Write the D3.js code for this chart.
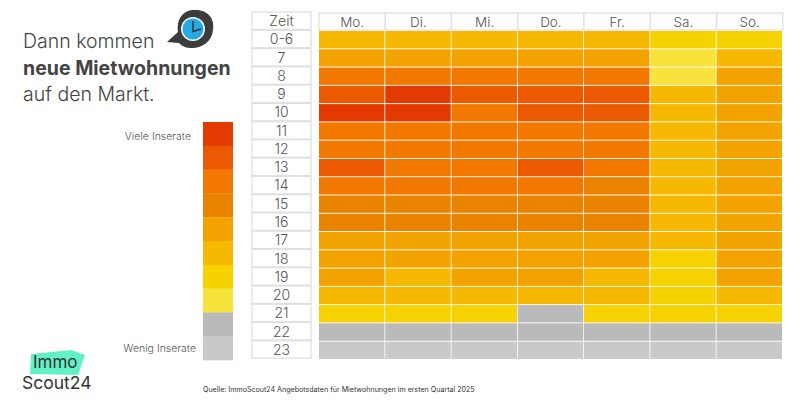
<!DOCTYPE html>
<html>
<head>
<meta charset="utf-8">
<script src="https://cdn.jsdelivr.net/npm/d3@7"></script>
<style>
  html, body { margin: 0; padding: 0; background: #fff; }
  svg { display: block; }
  text { font-family: Inter, "Open Sans", sans-serif; font-weight: 300; fill: #555; }
</style>
</head>
<body>
<div id="chart"></div>
<script>
const days = ['Mo.', 'Di.', 'Mi.', 'Do.', 'Fr.', 'Sa.', 'So.'];
const hours = ['0-6', '7', '8', '9', '10', '11', '12', '13', '14', '15', '16', '17', '18', '19', '20', '21', '22', '23'];

// listing level per hour, 0 = few, 9 = many
const mo = [4, 5, 7, 8, 9, 7, 7, 8, 7, 6, 6, 5, 5, 5, 4, 3, 1, 0];
const di = [4, 5, 7, 9, 9, 7, 7, 7, 7, 6, 6, 5, 5, 4, 4, 3, 1, 0];
const mi = [4, 5, 7, 8, 7, 7, 7, 7, 7, 6, 6, 5, 5, 5, 4, 3, 1, 0];
const doo = [4, 5, 7, 8, 8, 7, 7, 8, 7, 6, 6, 5, 5, 5, 4, 1, 1, 0];
const fr = [4, 5, 7, 8, 8, 7, 7, 7, 6, 6, 6, 5, 5, 4, 4, 3, 1, 0];
const sa = [3, 2, 2, 4, 4, 4, 4, 4, 4, 4, 4, 4, 3, 3, 3, 3, 1, 0];
const so = [3, 4, 5, 5, 5, 5, 5, 5, 5, 5, 5, 5, 5, 5, 4, 3, 1, 0];
const series = [mo, di, mi, doo, fr, sa, so];

const levels = [9, 8, 7, 6, 5, 4, 3, 2, 1, 0];
const levelColors = ['#e23a00', '#eb5a00', '#f37800', '#ea8400', '#f3a300', '#f6b800', '#f6d200', '#f8e23c', '#bababa', '#c9c9c9'];

const titleLines = ['Dann kommen', 'neue Mietwohnungen', 'auf den Markt.'];

const width = 800;
const height = 400;

const svg = d3.select('#chart')
  .append('svg')
    .attr('width', width)
    .attr('height', height);

const x = d3.scaleBand().domain(days).range([319, 782]).paddingInner(0.012);
const y = d3.scaleBand().domain(hours).range([31, 359]).paddingInner(0.05);
const color = d3.scaleOrdinal().domain(levels).range(levelColors);

// cells
const cells = series.flatMap((vals, i) => vals.map((v, j) => ({ day: days[i], hour: hours[j], v })));

svg.append('g')
  .selectAll('rect')
  .data(cells)
  .enter()
    .append('rect')
      .attr('x', d => x(d.day))
      .attr('y', d => y(d.hour))
      .attr('width', x.bandwidth())
      .attr('height', y.bandwidth())
      .attr('fill', d => color(d.v));

// day headers
const head = svg.append('g')
  .selectAll('g')
  .data(days)
  .enter()
    .append('g')
      .attr('transform', d => `translate(${x(d)},13)`);

head.append('rect')
  .attr('width', x.step())
  .attr('height', 17)
  .attr('fill', '#fff')
  .attr('stroke', '#e0e0e0')
  .attr('stroke-width', 1.3);

head.append('text')
  .attr('x', x.step() / 2)
  .attr('y', 13.5)
  .attr('text-anchor', 'middle')
  .attr('font-size', 13.5)
  .text(d => d);

// hour labels
const rowY = d3.scaleBand().domain(['Zeit'].concat(hours)).range([12, 359]);

const rows = svg.append('g')
  .selectAll('g')
  .data(rowY.domain())
  .enter()
    .append('g')
      .attr('transform', d => `translate(252,${rowY(d)})`);

rows.append('rect')
  .attr('width', 59)
  .attr('height', rowY.bandwidth() - 0.8)
  .attr('fill', '#fff')
  .attr('stroke', '#e0e0e0')
  .attr('stroke-width', 1.3);

rows.append('text')
  .attr('x', 29.5)
  .attr('y', rowY.bandwidth() / 2 + 5)
  .attr('text-anchor', 'middle')
  .attr('font-size', 14)
  .text(d => d);

// legend
const legendY = d3.scaleBand().domain(levels).range([122, 360]);

svg.append('g')
  .selectAll('rect')
  .data(levels)
  .enter()
    .append('rect')
      .attr('x', 203)
      .attr('y', d => legendY(d))
      .attr('width', 30)
      .attr('height', legendY.bandwidth() + 0.3)
      .attr('fill', d => color(d));

svg.append('text')
  .attr('x', 191).attr('y', 140)
  .attr('text-anchor', 'end')
  .attr('font-size', 10.5)
  .text('Viele Inserate');

svg.append('text')
  .attr('x', 196).attr('y', 352)
  .attr('text-anchor', 'end')
  .attr('font-size', 10.5)
  .text('Wenig Inserate');

// title
svg.append('g')
  .selectAll('text')
  .data(titleLines)
  .enter()
    .append('text')
      .attr('x', 23)
      .attr('y', (d, i) => 48 + i * 26.5)
      .attr('font-size', 19.5)
      .style('font-weight', (d, i) => i === 1 ? 700 : 300)
      .style('fill', '#444')
      .text(d => d);

// clock icon
const icon = svg.append('g').attr('transform', 'translate(193,29)');
icon.append('path')
  .attr('d', 'M-26,13 L-15,3 C-17,-12 -8,-20 3,-19 C15,-19 22,-10 20,1 C19,13 8,20 -3,19 C-8,19 -12,16 -14,14 Z')
  .attr('fill', '#3c3c3c');
icon.append('circle').attr('r', 12).attr('fill', '#f2f8fb');
icon.append('circle').attr('r', 10.5).attr('fill', '#27a9e1');
icon.append('path')
  .attr('d', 'M0,-8 V2.5 L8,0')
  .attr('fill', 'none')
  .attr('stroke', '#2d2d2d')
  .attr('stroke-width', 1.4);

// logo
svg.append('path')
  .attr('d', 'M31,354 L71,350 L85,355 L78,375 L30,374 Z')
  .attr('fill', '#62f0c6');

svg.append('text')
  .attr('x', 33).attr('y', 368)
  .attr('font-size', 17)
  .style('font-weight', 400)
  .style('fill', '#333')
  .text('Immo');

svg.append('text')
  .attr('x', 22).attr('y', 389)
  .attr('font-size', 17.5)
  .style('font-weight', 400)
  .style('fill', '#333')
  .text('Scout24');

// source
svg.append('text')
  .attr('x', 203).attr('y', 392)
  .attr('font-size', 7.1)
  .style('font-weight', 400)
  .style('fill', '#333')
  .text('Quelle: ImmoScout24 Angebotsdaten für Mietwohnungen im ersten Quartal 2025');
</script>
</body>
</html>
